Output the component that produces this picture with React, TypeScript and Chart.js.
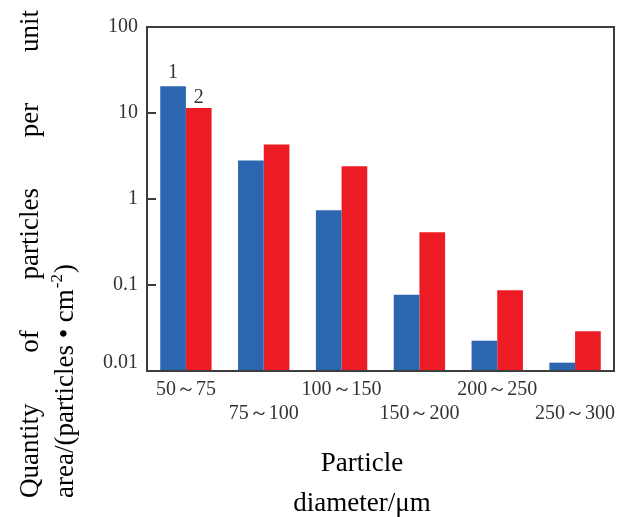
import React, { useEffect, useRef } from 'react';
import { Chart, registerables } from 'chart.js';

Chart.register(...registerables);

const categories = ['50～75', '75～100', '100～150', '150～200', '200～250', '250～300'];
const seriesNames = ['1', '2'];
const series1 = [20.5, 2.8, 0.74, 0.077, 0.0225, 0.0125];
const series2 = [11.4, 4.3, 2.4, 0.41, 0.087, 0.029];
const yTickValues = [0.01, 0.1, 1, 10, 100];
const yTickLabels = ['0.01', '0.1', '1', '10', '100'];
const innerTickValues = [0.1, 1, 10];
const yTitleLine1 = ['Quantity', 'of', 'particles', 'per', 'unit'];
const yTitleLine2 = ['area/(particles • cm', '-2', ')'];
const xTitleLines = ['Particle', 'diameter/μm'];

const BLUE = '#2C66B0';
const RED = '#ED1C24';
const SERIF = '"Liberation Serif", "Times New Roman", serif';
const TITLE_FONT = `27px ${SERIF}`;

const decor = {
  id: 'decor',
  afterDatasetsDraw(chart: any) {
    const { ctx, chartArea: a, scales } = chart;
    ctx.save();
    // frame
    ctx.strokeStyle = '#3d3d3d';
    ctx.lineWidth = 2;
    ctx.strokeRect(a.left, a.top, a.right - a.left, a.bottom - a.top);
    // inward ticks
    innerTickValues.forEach((v) => {
      const y = scales.y.getPixelForValue(v);
      ctx.beginPath();
      ctx.moveTo(a.left, y);
      ctx.lineTo(a.left + 9, y);
      ctx.stroke();
    });
    // series labels above first bars
    ctx.fillStyle = '#333';
    ctx.font = `20px ${SERIF}`;
    ctx.textAlign = 'center';
    ctx.textBaseline = 'bottom';
    chart.data.datasets.forEach((_: any, i: number) => {
      const el = chart.getDatasetMeta(i).data[0];
      ctx.fillText(seriesNames[i], el.x, el.y - (i === 0 ? 3 : 0));
    });

    // y title
    ctx.fillStyle = '#000';
    ctx.font = TITLE_FONT;
    ctx.textBaseline = 'alphabetic';
    ctx.textAlign = 'left';
    ctx.save();
    ctx.translate(38, 498);
    ctx.rotate(-Math.PI / 2);
    const L = 488;
    const widths = yTitleLine1.map((w) => ctx.measureText(w).width);
    const gap = (L - widths.reduce((p, c) => p + c, 0)) / (yTitleLine1.length - 1);
    let u = 0;
    yTitleLine1.forEach((w, i) => {
      ctx.fillText(w, u, 0);
      u += widths[i] + gap;
    });
    ctx.restore();

    ctx.save();
    ctx.translate(73, 498);
    ctx.rotate(-Math.PI / 2);
    ctx.font = TITLE_FONT;
    ctx.fillText(yTitleLine2[0], 0, 0);
    let w = ctx.measureText(yTitleLine2[0]).width;
    ctx.font = `17px ${SERIF}`;
    ctx.fillText(yTitleLine2[1], w + 1, -11);
    w += ctx.measureText(yTitleLine2[1]).width + 2;
    ctx.font = TITLE_FONT;
    ctx.fillText(yTitleLine2[2], w, 0);
    ctx.restore();

    // x title
    ctx.textAlign = 'center';
    ctx.font = TITLE_FONT;
    ctx.fillText(xTitleLines[0], 362, 471);
    ctx.fillText(xTitleLines[1], 362, 511);
    ctx.restore();
  },
};

export default function App() {
  const ref = useRef<HTMLCanvasElement>(null);
  useEffect(() => {
    const chart = new Chart(ref.current as HTMLCanvasElement, {
      type: 'bar',
      data: {
        labels: categories,
        datasets: [
          { label: seriesNames[0], data: series1, backgroundColor: BLUE, borderWidth: 0, categoryPercentage: 0.66, barPercentage: 1 },
          { label: seriesNames[1], data: series2, backgroundColor: RED, borderWidth: 0, categoryPercentage: 0.66, barPercentage: 1 },
        ],
      },
      options: {
        animation: false,
        responsive: true,
        maintainAspectRatio: false,
        layout: { padding: { top: 27, right: 11, left: 0, bottom: 0 } },
        plugins: { legend: { display: false }, tooltip: { enabled: false } },
        scales: {
          x: {
            grid: { display: false, drawTicks: false },
            border: { display: false },
            ticks: {
              autoSkip: false,
              maxRotation: 0,
              minRotation: 0,
              padding: 7,
              color: '#333',
              font: { size: 20, family: SERIF, lineHeight: 1.2 },
              callback: (_v: any, i: number) => (i % 2 === 0 ? [categories[i], ''] : ['', categories[i]]),
            },
            afterFit: (s: any) => {
              s.height = 146;
            },
          },
          y: {
            type: 'logarithmic',
            min: 0.01,
            max: 100,
            grid: { display: false, drawTicks: false },
            border: { display: false },
            afterBuildTicks: (s: any) => {
              s.ticks = yTickValues.map((v) => ({ value: v }));
            },
            ticks: {
              padding: 9,
              color: '#333',
              font: { size: 20, family: SERIF, lineHeight: 0.8 },
              callback: (v: any) => {
                const idx = yTickValues.findIndex((t) => Math.abs(t - Number(v)) < t * 1e-6);
                if (idx < 0) return '';
                return idx === 0 ? [yTickLabels[idx], ''] : yTickLabels[idx];
              },
            },
            afterFit: (s: any) => {
              s.width = 147;
            },
          },
        },
      } as any,
      plugins: [decor],
    });
    return () => chart.destroy();
  }, []);
  return (
    <div style={{ position: 'absolute', left: 0, top: 0, width: 625, height: 517 }}>
      <canvas ref={ref} />
    </div>
  );
}
